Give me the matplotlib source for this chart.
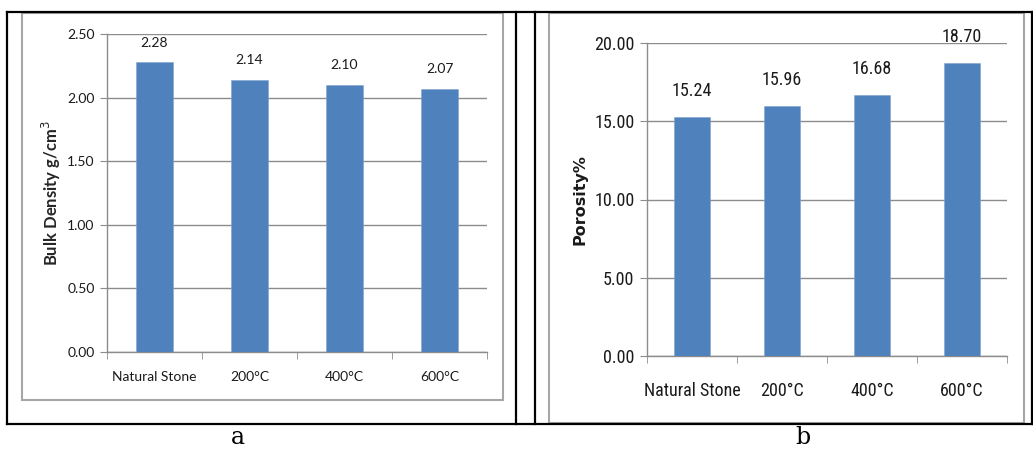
import matplotlib

matplotlib.use("Agg")
import matplotlib.pyplot as plt
from matplotlib import font_manager
from matplotlib.lines import Line2D
from matplotlib.patches import Rectangle

# --------------------------------------------------------------------------- #
# Data
# --------------------------------------------------------------------------- #
categories = ["Natural Stone", "200°C", "400°C", "600°C"]
bulk_density = [2.28, 2.14, 2.10, 2.07]
porosity = [15.24, 15.96, 16.68, 18.70]
density_ticks = [0.0, 0.5, 1.0, 1.5, 2.0, 2.5]
porosity_ticks = [0.0, 5.0, 10.0, 15.0, 20.0]

W, H = 1033, 450
BAR_COLOR = "#4F81BD"
GRID_COLOR = "#8C8C8C"
FRAME_COLOR = "#A6A6A6"
SANS = ["Lato", "DejaVu Sans"]

# prefer a condensed face for the porosity panel if one is installed
_installed = {f.name for f in font_manager.fontManager.ttflist}
_narrow = [n for n in ("Liberation Sans Narrow", "DejaVu Sans Condensed",
                       "Roboto Condensed", "Open Sans Condensed")
           if n in _installed]
NARROW = (_narrow[:1] or ["Lato"]) + ["DejaVu Sans"]
NARROW_SIZE = 13 if _narrow else 12


def px_rect(x0, y0, x1, y1):
    """Pixel box (top-left origin) -> figure fraction [left, bottom, w, h]."""
    return [x0 / W, 1 - y1 / H, (x1 - x0) / W, (y1 - y0) / H]


def hline(fig, x0, x1, y, **kw):
    fig.add_artist(Line2D([x0 / W, x1 / W], [1 - y / H, 1 - y / H], **kw))


def vline(fig, x, y0, y1, **kw):
    fig.add_artist(Line2D([x / W, x / W], [1 - y0 / H, 1 - y1 / H], **kw))


def bar_panel(ax, values, ticks, ylabel, tick_font, tick_size, label_kw,
              value_offset, cat_pad, bar_width):
    x = range(len(categories))
    bars = ax.bar(x, values, width=bar_width, color=BAR_COLOR, zorder=3,
                  edgecolor="#7FA3D0", linewidth=0.4)
    for b, v in zip(bars, values):
        ax.annotate(f"{v:.2f}", (b.get_x() + b.get_width() / 2, v),
                    xytext=(0, value_offset), textcoords="offset points",
                    ha="center", va="center", fontsize=tick_size,
                    family=tick_font, color="#1a1a1a")

    ax.set_xlim(-0.5, len(categories) - 0.5)
    ax.set_ylim(ticks[0], ticks[-1])
    ax.set_yticks(ticks, [f"{t:.2f}" for t in ticks], family=tick_font,
                  fontsize=tick_size, color="#1a1a1a")
    ax.set_xticks(list(x), categories, family=tick_font, fontsize=tick_size,
                  color="#1a1a1a")
    ax.set_xticks([i - 0.5 for i in range(len(categories) + 1)], minor=True)
    ax.tick_params(axis="x", which="major", length=0, pad=cat_pad)
    ax.tick_params(axis="x", which="minor", length=5, color=GRID_COLOR)
    ax.tick_params(axis="y", length=5, color=GRID_COLOR, pad=4)
    ax.yaxis.grid(True, color=GRID_COLOR, linewidth=1.0, zorder=0)
    ax.set_axisbelow(True)
    for side in ("top", "right"):
        ax.spines[side].set_visible(False)
    for side in ("left", "bottom"):
        ax.spines[side].set_color(GRID_COLOR)
        ax.spines[side].set_linewidth(1.0)
    ax.set_ylabel(ylabel, **label_kw)


fig = plt.figure(figsize=(W / 100, H / 100), dpi=100)

# table rules around the two panels
rule = dict(color="black", linewidth=1.6)
hline(fig, 7, 1033, 12, **rule)
hline(fig, 7, 1033, 424, **rule)
for xv in (7, 516, 535, 1032):
    vline(fig, xv, 12, 424, **rule)

# chart frames
for x0, y0, x1, y1 in [(22, 13, 503, 400), (549, 13, 1024, 423)]:
    l, b, w, h = px_rect(x0, y0, x1, y1)
    fig.add_artist(Rectangle((l, b), w, h, transform=fig.transFigure,
                             fill=False, edgecolor=FRAME_COLOR, linewidth=1.5))

ax_a = fig.add_axes(px_rect(107, 34, 487, 352))
bar_panel(ax_a, bulk_density, density_ticks, "Bulk Density g/cm$^3$",
          SANS, 10, dict(fontsize=12, fontweight="bold", family=SANS,
                         color="#262626", labelpad=3),
          value_offset=14, cat_pad=14, bar_width=0.39)

ax_b = fig.add_axes(px_rect(647, 43, 1007, 356))
bar_panel(ax_b, porosity, porosity_ticks, "Porosity%",
          NARROW, NARROW_SIZE,
          dict(fontsize=11.5, fontweight="bold", family=["DejaVu Sans"],
               color="#1a1a1a", labelpad=5),
          value_offset=19, cat_pad=19, bar_width=0.40)

# panel captions
fig.text(238 / W, 1 - 437 / H, "a", ha="center", va="center",
         family=["DejaVu Serif"], fontsize=17)
fig.text(803 / W, 1 - 438 / H, "b", ha="center", va="center",
         family=["DejaVu Serif"], fontsize=17)

fig.savefig("out.png", dpi=100)
